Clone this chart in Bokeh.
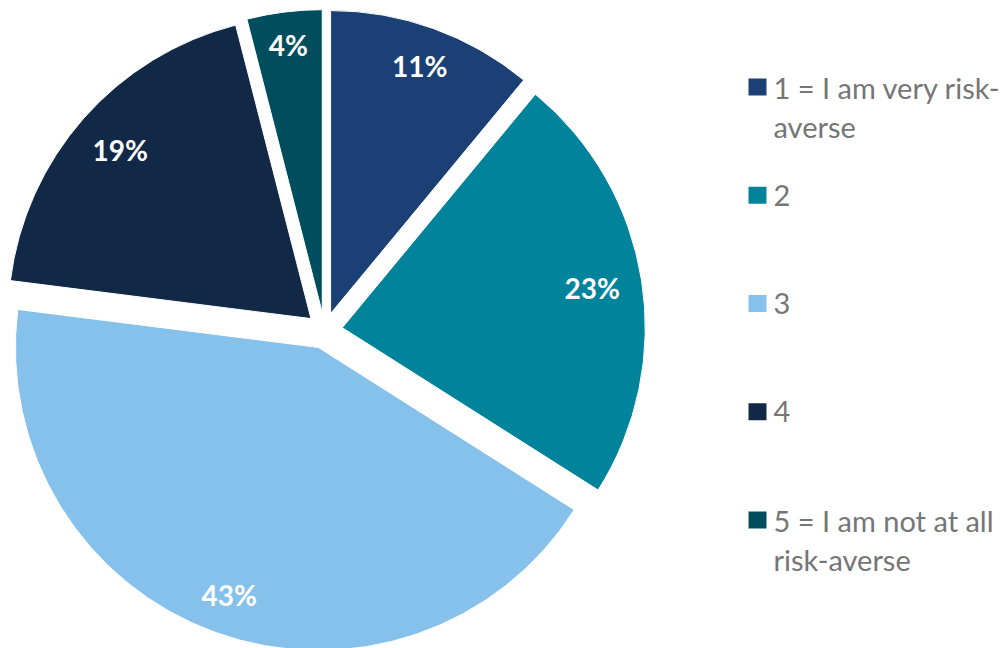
import numpy as np
from bokeh.plotting import figure
from bokeh.models import Range1d
from bokeh.embed import file_html
from bokeh.resources import INLINE
from bokeh.core.properties import value

# ---- data ----
categories = ["1 = I am very risk-\naverse", "2", "3", "4", "5 = I am not at all\nrisk-averse"]
shares = [11, 23, 43, 19, 4]
pct_labels = ["11%", "23%", "43%", "19%", "4%"]
colors = ["#1B4075", "#00839B", "#85C1EB", "#112847", "#004E5D"]

# ---- layout ----
W, H = 1004, 648
p = figure(width=W, height=H, x_range=Range1d(0, W), y_range=Range1d(0, H),
           output_backend="svg", toolbar_location=None,
           x_axis_type=None, y_axis_type=None, min_border=0)
p.grid.visible = False
p.outline_line_color = None
p.background_fill_color = "white"
p.border_fill_color = "white"

cx, cy = 324, H - 330
R = 303
EXPLODE = 18

fr = np.array(shares, dtype=float) / sum(shares)
ends = np.cumsum(fr) * 2 * np.pi          # clockwise from 12 o'clock
starts = ends - fr * 2 * np.pi
mids = (starts + ends) / 2
ox = cx + EXPLODE * np.sin(mids)
oy = cy + EXPLODE * np.cos(mids)

p.wedge(x=list(ox), y=list(oy), radius=R,
        start_angle=list(np.pi / 2 - ends), end_angle=list(np.pi / 2 - starts),
        fill_color=colors, line_color="white", line_width=1)

# data labels, "inside end"
lx, ly = [], []
for s, m, x0, y0 in zip(pct_labels, mids, ox, oy):
    w = 17 * (len(s) - 1) + 23
    h = 22
    ext = w / 2 * abs(np.sin(m)) + h / 2 * abs(np.cos(m))
    d = R - 20 - ext
    lx.append(x0 + d * np.sin(m))
    ly.append(y0 + d * np.cos(m))
p.text(x=lx, y=ly, text=pct_labels, text_align="center", text_baseline="middle",
       text_color="white", text_font=value("Lato"), text_font_style="bold",
       text_font_size="28px")

# legend
sq_x = 757
sq_y = [H - 86.5 - i * 108.25 for i in range(len(categories))]
p.rect(x=[sq_x] * len(categories), y=sq_y, width=18, height=17,
       fill_color=colors, line_color=None)
tx, ty, tt = [], [], []
for lab, y0 in zip(categories, sq_y):
    for j, line in enumerate(lab.split("\n")):
        tx.append(773)
        ty.append(y0 - j * 39)
        tt.append(line)
p.text(x=tx, y=ty, text=tt, text_align="left", text_baseline="middle",
       text_color="#767676", text_font=value("Lato"), text_font_size="29px")

open("out.html", "w").write(file_html(p, INLINE))
